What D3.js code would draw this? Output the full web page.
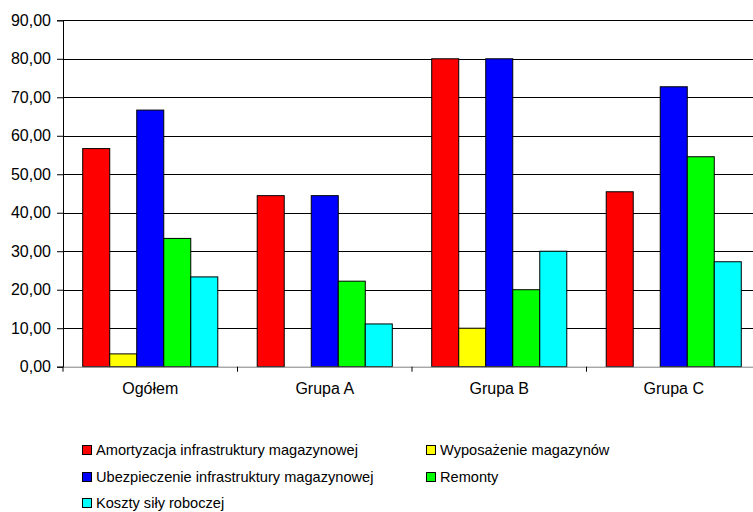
<!DOCTYPE html>
<html><head><meta charset="utf-8">
<script src="https://cdn.jsdelivr.net/npm/d3@7"></script>
<style>body{margin:0;background:#fff}svg{display:block}text{font-family:"Liberation Sans",Arial,sans-serif;fill:#000}</style>
</head><body><svg id="c" width="753" height="512"></svg>
<script>
const categories = ["Ogółem", "Grupa A", "Grupa B", "Grupa C"];
const seriesNames = ["Amortyzacja infrastruktury magazynowej", "Wyposażenie magazynów", "Ubezpieczenie infrastruktury magazynowej", "Remonty", "Koszty siły roboczej"];
const seriesColors = ["#ff0000", "#ffff00", "#0000ff", "#00ff00", "#00ffff"];
const amortyzacja = [56.67, 44.44, 80.00, 45.45];
const wyposazenie = [3.33, 0, 10.00, 0];
const ubezpieczenie = [66.67, 44.44, 80.00, 72.73];
const remonty = [33.33, 22.22, 20.00, 54.55];
const koszty = [23.33, 11.11, 30.00, 27.27];
const yTicks = [0, 10, 20, 30, 40, 50, 60, 70, 80, 90];

const values = [amortyzacja, wyposazenie, ubezpieczenie, remonty, koszty];
const svg = d3.select("#c");
const pLeft = 63, pRight = 761, pTop = 20.3, pBottom = 366.7;
const y = d3.scaleLinear().domain([0, 90]).range([pBottom, pTop]);
const x0 = d3.scaleBand().domain(categories).range([pLeft, pRight]).padding(0);
const bw = x0.bandwidth();
const x1 = d3.scaleBand().domain(d3.range(seriesNames.length)).range([bw*0.113, bw*(1-0.113)]).padding(0);

// gridlines
svg.append("g").selectAll("line").data(yTicks.filter(d => d > 0)).join("line")
  .attr("x1", pLeft).attr("x2", pRight)
  .attr("y1", d => Math.round(y(d)) + 0.5).attr("y2", d => Math.round(y(d)) + 0.5)
  .attr("stroke", "#000").attr("stroke-width", 1);

// bars
const fmt = v => d3.format(".2f")(v).replace(".", ",");
categories.forEach((c, ci) => {
  values.forEach((arr, si) => {
    const v = arr[ci];
    if (v <= 0) return;
    svg.append("rect")
      .attr("x", x0(c) + x1(si)).attr("width", x1.bandwidth())
      .attr("y", y(v)).attr("height", y(0) - y(v))
      .attr("fill", seriesColors[si]).attr("stroke", "#000").attr("stroke-width", 1);
  });
});

// y axis
const yAxis = d3.axisLeft(y).tickValues(yTicks).tickSize(6).tickPadding(6).tickFormat(fmt);
const gy = svg.append("g").attr("transform", `translate(${pLeft},0)`).call(yAxis);
gy.select(".domain").attr("stroke", "#000");
gy.selectAll(".tick line").attr("stroke", "#000");
gy.selectAll("text").style("font-size", "16px").style("font-family", '"Liberation Sans",Arial,sans-serif');

// x axis
const xAxis = d3.axisBottom(x0).tickSize(0).tickPadding(16);
const gx = svg.append("g").attr("transform", `translate(0,${pBottom})`).call(xAxis);
gx.select(".domain").attr("stroke", "#808080");
gx.selectAll("text").style("font-size", "16px").style("font-family", '"Liberation Sans",Arial,sans-serif');
gx.selectAll(".bnd").data(categories).join("line").attr("class", "bnd")
  .attr("x1", d => x0(d)).attr("x2", d => x0(d)).attr("y1", 0).attr("y2", 5).attr("stroke", "#000");

// legend
const legPos = [[82, 450], [426, 450], [82, 477], [426, 477], [82, 503]];
const lg = svg.append("g");
seriesNames.forEach((n, i) => {
  const [lx, ly] = legPos[i];
  lg.append("rect").attr("x", lx + 0.5).attr("y", ly - 4.5).attr("width", 9).attr("height", 9)
    .attr("fill", seriesColors[i]).attr("stroke", "#000");
  lg.append("text").attr("x", lx + 14).attr("y", ly).attr("dy", "0.35em")
    .style("font-size", "14.6px").text(n);
});
</script></body></html>
